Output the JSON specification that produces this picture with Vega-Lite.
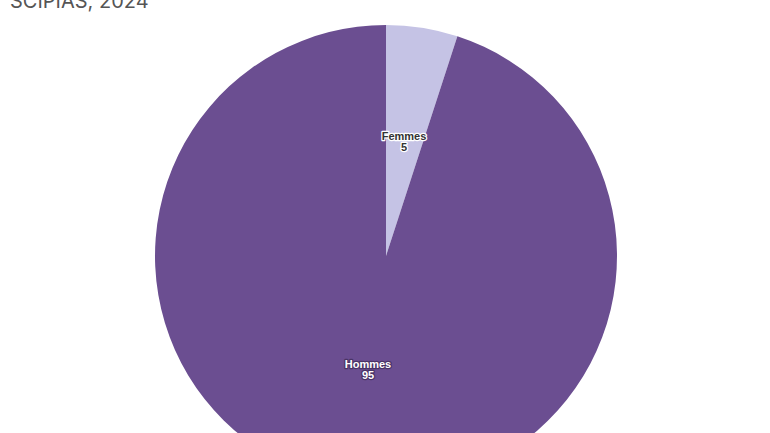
{
  "$schema": "https://vega.github.io/schema/vega-lite/v6.json",
  "autosize": "none",
  "padding": {"left": 10, "top": 20, "right": 0, "bottom": 0},
  "width": 752,
  "height": 472,
  "background": "white",
  "title": {
    "text": "SCIPIAS, 2024",
    "anchor": "start",
    "frame": "group",
    "fontSize": 20,
    "fontWeight": "normal",
    "font": "Inter",
    "color": "#555555",
    "baseline": "alphabetic",
    "offset": -8
  },
  "data": {
    "values": [
      {"genre": "Femmes", "valeur": 5, "ordre": 1},
      {"genre": "Hommes", "valeur": 95, "ordre": 2}
    ]
  },
  "encoding": {
    "theta": {"field": "valeur", "type": "quantitative", "stack": true},
    "order": {"field": "ordre", "type": "quantitative"}
  },
  "layer": [
    {
      "mark": {"type": "arc", "outerRadius": 231, "stroke": null},
      "encoding": {
        "color": {
          "field": "genre",
          "type": "nominal",
          "scale": {"domain": ["Femmes", "Hommes"], "range": ["#c5c3e5", "#6b4e91"]},
          "legend": null
        }
      }
    },
    {
      "mark": {"type": "text", "radius": 115, "fontSize": 11, "fontWeight": "bold", "font": "Liberation Sans", "strokeWidth": 2.5, "strokeJoin": "round", "baseline": "middle"},
      "encoding": {
        "text": {"field": "genre", "type": "nominal"},
        "color": {"condition": {"test": "datum.genre === 'Femmes'", "value": "#ffffff"}, "value": "#4a3466"},
        "stroke": {"condition": {"test": "datum.genre === 'Femmes'", "value": "#ffffff"}, "value": "#4a3466"},
        "yOffset": {"value": -5}
      }
    },
    {
      "mark": {"type": "text", "radius": 115, "fontSize": 11, "fontWeight": "bold", "font": "Liberation Sans", "strokeWidth": 2.5, "strokeJoin": "round", "baseline": "middle"},
      "encoding": {
        "text": {"field": "valeur", "type": "quantitative"},
        "color": {"condition": {"test": "datum.genre === 'Femmes'", "value": "#ffffff"}, "value": "#4a3466"},
        "stroke": {"condition": {"test": "datum.genre === 'Femmes'", "value": "#ffffff"}, "value": "#4a3466"},
        "yOffset": {"value": 6}
      }
    },
    {
      "mark": {"type": "text", "radius": 115, "fontSize": 11, "fontWeight": "bold", "font": "Liberation Sans", "baseline": "middle"},
      "encoding": {
        "text": {"field": "genre", "type": "nominal"},
        "color": {"condition": {"test": "datum.genre === 'Femmes'", "value": "#333333"}, "value": "#ffffff"},
        "yOffset": {"value": -5}
      }
    },
    {
      "mark": {"type": "text", "radius": 115, "fontSize": 11, "fontWeight": "bold", "font": "Liberation Sans", "baseline": "middle"},
      "encoding": {
        "text": {"field": "valeur", "type": "quantitative"},
        "color": {"condition": {"test": "datum.genre === 'Femmes'", "value": "#333333"}, "value": "#ffffff"},
        "yOffset": {"value": 6}
      }
    }
  ],
  "config": {"view": {"stroke": null}}
}
